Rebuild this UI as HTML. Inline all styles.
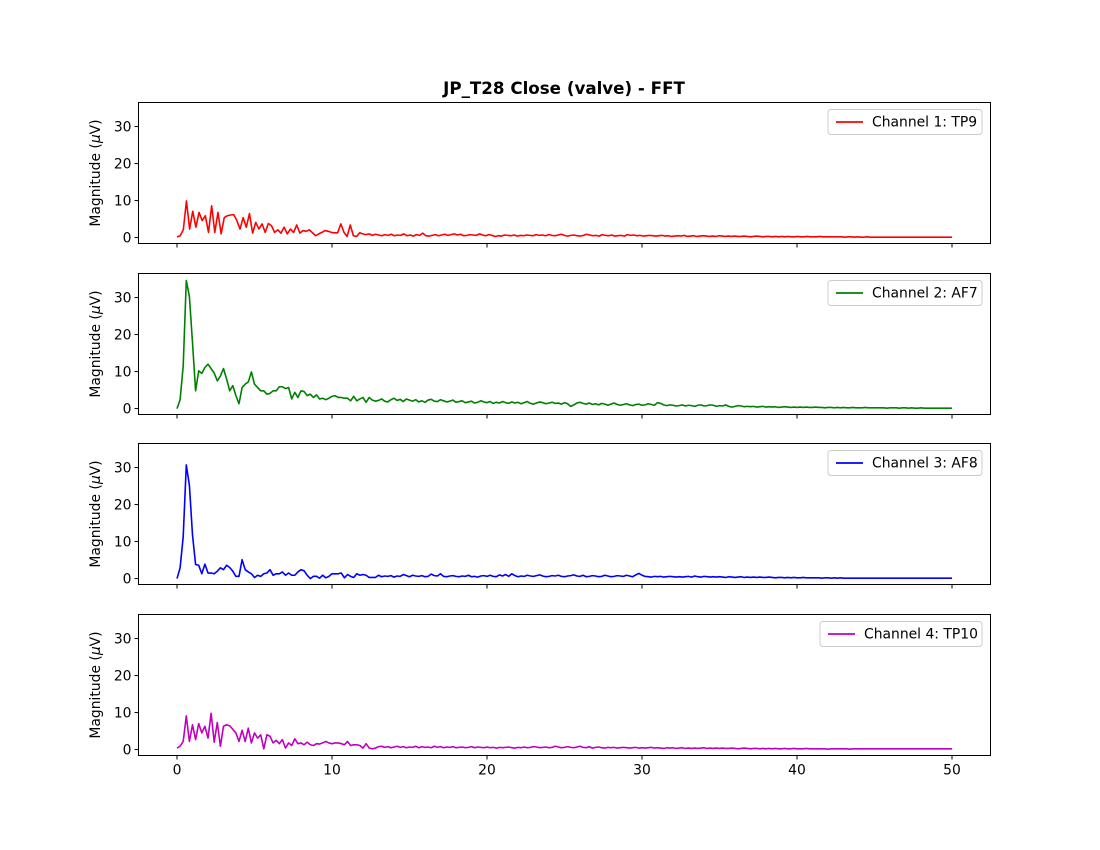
<!DOCTYPE html>
<html><head><meta charset="utf-8"><style>
html,body{margin:0;padding:0;background:#fff;}
svg{display:block;font-family:"DejaVu Sans","Liberation Sans",sans-serif;}
</style></head><body>
<svg id="fig" width="1100" height="850" viewBox="0 0 1100 850" xmlns="http://www.w3.org/2000/svg">
<rect width="1100" height="850" fill="#fff"/>
<text x="564" y="94" text-anchor="middle" font-size="16.7" font-weight="bold">JP_T28 Close (valve) - FFT</text>
</svg>
<script>
const xTicks = [0, 10, 20, 30, 40, 50];
const yTicks = [0, 10, 20, 30];
const channelNames = ["Channel 1: TP9", "Channel 2: AF7", "Channel 3: AF8", "Channel 4: TP10"];
const channelColors = ["#ff0000", "#008000", "#0000ff", "#bf00bf"];
const ch1 = [0.2,0.5,2.1,9.9,2.3,7.1,2.8,6.8,4.6,5.9,1.4,8.6,1.4,6.8,1.0,5.4,5.9,6.1,6.2,4.6,2.3,5.4,2.8,6.5,1.2,4.1,2.3,3.7,1.4,3.8,3.2,1.4,2.1,1.2,2.8,1.0,2.3,1.4,3.4,1.2,1.9,1.7,2.1,1.3,0.5,1.0,1.4,1.9,1.7,1.4,1.3,1.3,3.7,1.4,0.3,3.4,0.5,0.3,1.3,1.0,
0.8,1.0,0.6,0.9,0.7,0.5,0.8,0.6,0.9,0.5,0.7,0.6,1.0,0.5,0.7,0.4,0.8,0.6,1.2,0.5,0.4,0.6,0.8,0.5,0.7,0.9,0.6,0.8,1.0,0.7,0.9,0.5,0.6,0.8,0.7,0.6,1.0,0.7,0.5,0.8,0.6,0.3,0.5,0.4,0.7,0.6,0.5,0.7,0.4,0.6,0.5,0.7,0.6,0.5,0.8,0.6,0.7,0.5,0.8,0.6,0.5,0.7,0.9,0.6,0.4,0.6,0.7,0.5,0.4,0.6,0.9,0.7,0.5,0.6,0.4,0.8,0.6,0.5,0.7,0.4,0.5,0.6,0.4,0.8,0.6,0.7,0.5,0.6,0.4,0.5,0.6,0.5,0.4,0.5,0.6,0.4,0.5,0.3,0.4,0.5,0.4,0.6,0.3,0.4,0.5,0.3,0.4,0.5,0.4,0.3,0.4,0.3,0.5,0.4,0.3,0.4,0.3,0.4,0.3,0.3,0.4,0.3,0.2,0.3,0.4,0.3,0.2,0.3,0.3,0.2,0.3,0.2,0.3,0.2,0.3,0.2,0.2,0.3,0.2,0.2,0.3,0.2,0.2,0.2,0.3,0.2,0.2,0.2,0.2,0.2,0.2,0.2,0.1,0.2,0.2,0.1,0.2,0.1,0.1,0.2,0.1,0.1,0.1,0.1,0.1,0.1,0.1,0.1,0.1,0.1,0.1,0.1,0.1,0.1,0.1,0.1,0.1,0.1,0.1,0.1,0.1,0.1,0.1,0.1,0.1,0.1,0.1];
const ch2 = [0,2.4,11.5,34.6,30.3,17.8,4.8,10.2,9.5,11.1,12.0,10.8,9.6,7.5,8.8,10.8,8.0,4.8,6.2,3.5,1.3,5.7,6.6,7.2,9.9,6.6,5.7,4.8,4.8,3.9,4.1,4.8,4.8,5.9,5.9,5.4,5.7,2.6,4.4,3.0,4.8,4.6,3.5,3.9,3.0,3.7,2.6,2.8,2.4,2.8,3.3,3.5,3.0,3.0,2.8,2.8,2.1,3.3,2.1,2.6,3.0,1.7,3.0,2.3,2.0,
2.2,2.6,2.0,1.8,2.4,2.8,2.2,2.5,1.9,2.6,2.3,2.0,2.4,1.8,2.1,1.7,2.3,2.5,2.0,1.9,2.4,2.1,1.8,2.0,2.3,1.7,1.9,2.1,1.6,1.8,2.0,1.5,1.7,2.1,1.8,1.6,1.9,1.4,1.7,1.5,1.9,1.6,1.4,1.8,1.5,1.7,1.3,1.6,1.9,1.4,1.2,1.5,1.8,1.6,1.3,1.5,1.7,1.4,1.5,1.2,1.6,1.3,0.6,1.0,1.5,1.7,1.4,1.2,1.5,1.1,1.3,1.0,1.4,1.2,0.9,1.2,1.5,1.1,0.9,1.1,1.3,1.0,0.8,1.1,1.2,0.9,1.0,1.3,1.1,0.9,1.6,1.4,1.0,0.8,1.0,0.9,0.7,0.8,1.0,0.7,0.9,0.8,0.6,0.9,1.0,0.7,0.8,1.0,0.9,0.6,0.8,0.7,1.0,0.6,0.4,0.6,0.8,0.7,0.5,0.6,0.5,0.6,0.4,0.5,0.6,0.4,0.5,0.4,0.5,0.3,0.4,0.5,0.4,0.3,0.4,0.3,0.4,0.3,0.4,0.3,0.3,0.4,0.3,0.3,0.2,0.3,0.3,0.2,0.3,0.2,0.3,0.2,0.2,0.3,0.2,0.2,0.2,0.3,0.2,0.2,0.2,0.2,0.2,0.2,0.1,0.2,0.2,0.2,0.1,0.2,0.2,0.1,0.2,0.1,0.1,0.2,0.1,0.1,0.1,0.1,0.1,0.1,0.1,0.1,0.1,0.1];
const ch3 = [0,2.9,11.3,30.7,25.2,11.8,3.8,3.6,1.3,3.9,1.5,1.5,1.3,2.0,2.9,2.4,3.6,3.0,2.0,0.6,0.6,5.1,2.4,1.8,1.3,0.3,0.9,0.6,1.3,1.5,2.4,0.9,1.3,1.3,1.8,0.9,1.5,0.9,0.9,1.8,2.4,2.1,0.9,0,0.6,0.6,0.1,0.9,0.2,0.6,1.3,1.3,1.3,1.5,0.2,1.1,0.6,0.3,1.3,0.9,1.1,0.9,0.3,0.3,0.3,
0.9,0.5,0.7,0.6,0.8,0.4,0.7,0.6,1.1,0.8,0.5,0.9,0.7,0.6,0.8,0.5,0.6,1.2,0.8,0.7,1.3,0.6,0.5,0.7,0.8,0.6,0.5,0.7,0.6,0.9,0.5,0.6,0.4,0.7,0.8,0.6,0.9,0.6,0.5,1.0,0.7,1.1,0.6,1.3,0.8,0.5,0.7,0.6,0.9,0.7,0.6,0.8,1.0,0.7,0.5,0.6,0.8,0.7,0.9,0.6,0.5,0.7,0.8,1.0,0.7,0.6,0.9,0.5,0.6,0.8,0.7,0.5,0.6,0.9,0.7,0.5,0.6,0.8,0.7,0.6,0.9,0.7,0.5,1.0,1.4,0.9,0.6,0.5,0.4,0.6,0.5,0.6,0.4,0.5,0.6,0.5,0.4,0.5,0.4,0.5,0.6,0.4,0.7,0.5,0.4,0.6,0.5,0.4,0.5,0.4,0.5,0.4,0.3,0.5,0.4,0.3,0.4,0.5,0.3,0.4,0.3,0.4,0.3,0.4,0.3,0.3,0.4,0.3,0.2,0.3,0.3,0.2,0.3,0.2,0.3,0.2,0.2,0.3,0.2,0.2,0.2,0.2,0.2,0.1,0.2,0.2,0.1,0.2,0.1,0.2,0.1,0.1,0.1,0.1,0.1,0.1,0.1,0.1,0.1,0.1,0.1,0.1,0.1,0.1,0.1,0.1,0.1,0.1,0.1,0.1,0.1,0.1,0.1,0.1,0.1,0.1,0.1,0.1,0.1,0.1,0.1,0.1,0.1,0.1,0.1,0.1];
const ch4 = [0.4,0.9,2.2,9.1,2.2,6.7,2.7,7.0,4.5,6.3,3.1,9.8,2.0,7.3,0.9,6.3,6.7,6.4,5.5,4.5,2.2,5.2,2.2,5.8,1.8,4.5,3.1,4.0,0.2,4.0,3.6,1.8,2.5,1.6,2.7,0.4,1.8,1.1,2.9,1.6,1.8,1.3,2.0,1.3,1.1,1.6,1.5,1.8,2.2,1.8,1.6,1.8,1.8,1.6,1.3,2.2,1.1,1.3,1.3,1.1,0.4,1.6,0.4,0.2,0.4,
0.8,0.9,0.6,0.8,0.5,0.7,0.9,0.6,0.8,0.5,0.7,0.6,0.9,0.5,0.8,0.6,0.7,0.5,0.9,0.6,0.8,0.5,0.7,0.6,0.8,0.5,0.6,0.7,0.5,0.6,0.8,0.5,0.7,0.6,0.5,0.7,0.5,0.6,0.4,0.6,0.5,0.6,0.7,0.5,0.4,0.6,0.5,0.7,0.5,0.6,0.8,0.7,0.5,0.6,0.7,0.5,0.6,0.9,0.7,0.5,0.6,0.8,0.6,0.5,0.7,0.9,0.6,0.5,0.8,0.4,0.6,0.7,0.5,0.4,0.6,0.5,0.6,0.4,0.5,0.6,0.5,0.4,0.5,0.6,0.4,0.5,0.4,0.5,0.6,0.4,0.5,0.4,0.3,0.5,0.4,0.5,0.3,0.4,0.5,0.3,0.4,0.3,0.4,0.3,0.4,0.5,0.3,0.4,0.3,0.4,0.3,0.4,0.3,0.3,0.4,0.3,0.2,0.3,0.4,0.3,0.2,0.3,0.3,0.2,0.3,0.2,0.3,0.2,0.3,0.2,0.2,0.3,0.2,0.2,0.3,0.2,0.2,0.2,0.3,0.2,0.2,0.2,0.2,0.2,0.2,0.1,0.2,0.2,0.2,0.2,0.2,0.2,0.1,0.2,0.2,0.2,0.2,0.2,0.2,0.2,0.2,0.2,0.2,0.2,0.2,0.2,0.2,0.2,0.2,0.2,0.2,0.2,0.2,0.2,0.2,0.2,0.2,0.2,0.2,0.2,0.2,0.2,0.2,0.2,0.2,0.2];
const series = [ch1, ch2, ch3, ch4];

const NS = "http://www.w3.org/2000/svg";
const svg = document.getElementById("fig");
const axL = 138.5, axR = 990.5, axH = 141;
const tops = [102.5, 273.5, 443.5, 614.5];
const yMin = -1.6, yMax = 36.5;
function xs(v){ return 177 + v * 15.5; }
function mk(tag, attrs, parent){
  const e = document.createElementNS(NS, tag);
  for (const k in attrs) e.setAttribute(k, attrs[k]);
  (parent || svg).appendChild(e);
  return e;
}
series.forEach((data, p) => {
  const top = tops[p], bot = top + axH;
  const ys = v => bot - (v - yMin) / (yMax - yMin) * axH;
  const g = mk("g", {});
  
  
  const n = data.length;
  let d = "";
  data.forEach((v, i) => {
    const f = i * 50 / (n - 1);
    d += (i ? "L" : "M") + xs(f).toFixed(2) + "," + ys(v).toFixed(2);
  });
  const path = mk("path", {d: d, fill: "none", stroke: channelColors[p], "stroke-width": 1.6, "stroke-linejoin": "round"}, g);
  
  
  const frame = mk("rect", {x: axL, y: top, width: axR - axL, height: axH, fill: "none", stroke: "#000", "stroke-width": 1}, g);
  
  
  yTicks.forEach(t => {
    const y = ys(t);
    mk("line", {x1: axL - 4, x2: axL, y1: y, y2: y, stroke: "#000", "stroke-width": 1}, g);
    const tx = mk("text", {x: axL - 7, y: y + 5, "text-anchor": "end", "font-size": 13.9}, g);
    tx.textContent = t;
    
    
  });
  xTicks.forEach(t => {
    const x = xs(t);
    mk("line", {x1: x, x2: x, y1: bot, y2: bot + 4, stroke: "#000", "stroke-width": 1}, g);
    if (p === 3) {
      const tx = mk("text", {x: x, y: bot + 19, "text-anchor": "middle", "font-size": 13.9}, g);
      tx.textContent = t;
      
      
    }
  });
  const yl = mk("text", {x: 0, y: 0, "text-anchor": "middle", "font-size": 13.9, transform: "translate(100," + (top + axH / 2) + ") rotate(-90)"}, g);
  yl.innerHTML = 'Magnitude (<tspan font-style="italic">μ</tspan>V)';
  
  
  const lw = p === 3 ? 162 : 154;
  const lx = 982 - lw, ly = top + 7;
  const lg = mk("g", {}, g);
  
  
  mk("rect", {x: lx, y: ly, width: lw, height: 25, rx: 3, fill: "#fff", stroke: "#ccc", "stroke-width": 1}, lg);
  mk("line", {x1: lx + 8, x2: lx + 35, y1: ly + 12.5, y2: ly + 12.5, stroke: channelColors[p], "stroke-width": 1.8}, lg);
  const lt = mk("text", {x: lx + 44, y: ly + 17, "font-size": 13.9}, lg);
  lt.textContent = channelNames[p];
  
  
});
</script>
</body></html>
